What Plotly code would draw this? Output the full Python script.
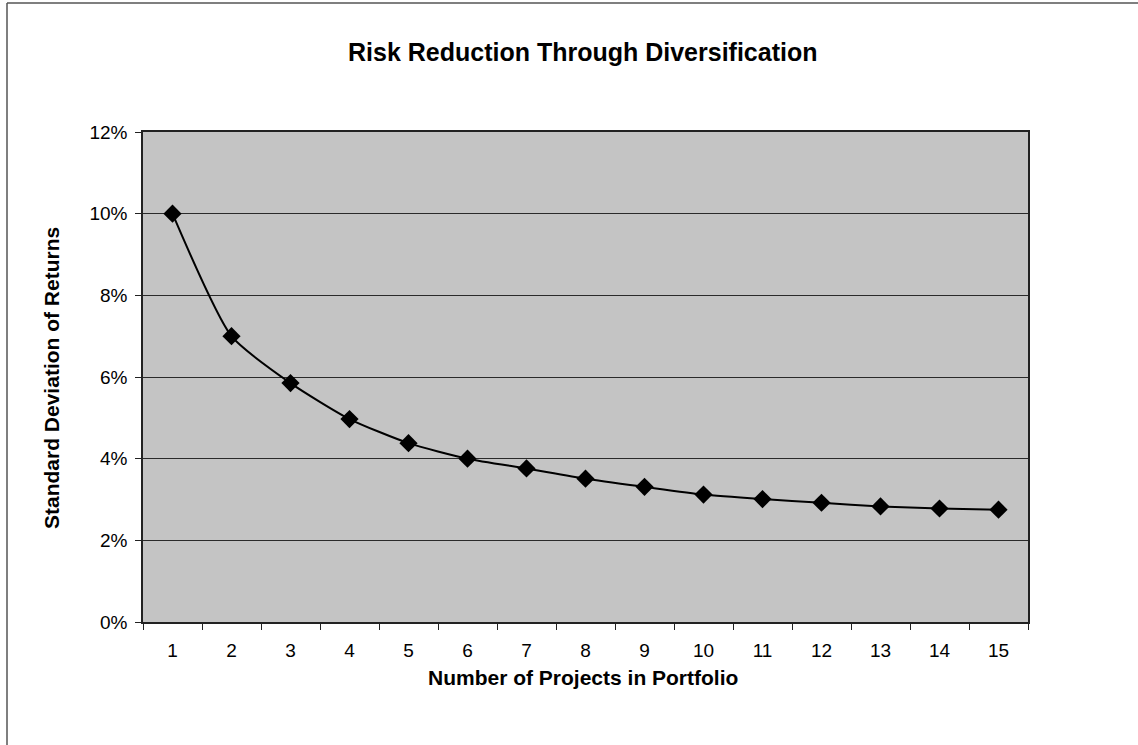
import plotly.graph_objects as go

# Number of projects held in the portfolio
projects = list(range(1, 16))
# Standard deviation of portfolio returns (fraction)
std_dev = [0.100, 0.070, 0.0585, 0.0497, 0.0438, 0.0400, 0.0376, 0.0351,
           0.0331, 0.0312, 0.0301, 0.0292, 0.0283, 0.0278, 0.0275]
y_ticks = [0, 0.02, 0.04, 0.06, 0.08, 0.10, 0.12]

W, H = 1138, 745
L, R, T, B = 143, 1028, 132, 622

FONT = "Liberation Sans, Arial, sans-serif"

fig = go.Figure()
fig.add_trace(go.Scatter(
    x=projects, y=std_dev, mode="lines+markers",
    line=dict(color="black", width=2, shape="spline", smoothing=0.6),
    marker=dict(symbol="diamond", size=14, color="black"),
    showlegend=False, cliponaxis=False,
))

def px_x(p):
    return (p - L) / (R - L)

def px_y(p):
    return (B - p) / (B - T)

fig.update_layout(
    width=W, height=H,
    margin=dict(l=L, r=W - R, t=T, b=H - B),
    paper_bgcolor="white",
    plot_bgcolor="#c4c4c4",
    font=dict(family=FONT, color="black", size=19),
    xaxis=dict(
        range=[0.5, 15.5], tickmode="array", tickvals=projects,
        ticktext=[str(p) for p in projects],
        ticks="", showgrid=False, zeroline=False,
        showline=True, linecolor="#222", linewidth=1.5, mirror=True,
        minor=dict(tick0=0.5, dtick=1, ticks="outside", ticklen=6,
                   tickcolor="#222", showgrid=False),
        tickfont=dict(size=19), ticklabelstandoff=10,
    ),
    yaxis=dict(
        range=[0, 0.12], tickmode="array", tickvals=y_ticks,
        ticktext=[f"{int(round(v * 100))}%" for v in y_ticks],
        ticks="outside", ticklen=6, tickcolor="#222",
        showgrid=True, gridcolor="#2a2a2a", gridwidth=1, zeroline=False,
        showline=True, linecolor="#222", linewidth=1.5, mirror=True,
        tickfont=dict(size=19), ticklabelstandoff=4,
    ),
    annotations=[
        dict(text="<b>Risk Reduction Through Diversification</b>",
             x=px_x(583), y=px_y(52), xref="paper", yref="paper",
             showarrow=False, font=dict(size=25, family=FONT),
             xanchor="center", yanchor="middle"),
        dict(text="<b>Number of Projects in Portfolio</b>",
             x=px_x(583), y=px_y(677), xref="paper", yref="paper",
             showarrow=False, font=dict(size=21, family=FONT),
             xanchor="center", yanchor="middle"),
        dict(text="<b>Standard Deviation of Returns</b>",
             x=px_x(51), y=px_y(378), xref="paper", yref="paper",
             showarrow=False, textangle=-90, font=dict(size=21, family=FONT),
             xanchor="center", yanchor="middle"),
    ],
    shapes=[
        # outer frame of the chart sheet
        dict(type="line", xref="paper", yref="paper",
             x0=px_x(7), x1=px_x(7), y0=px_y(3), y1=px_y(760),
             line=dict(color="#555", width=1.5)),
        dict(type="line", xref="paper", yref="paper",
             x0=px_x(7), x1=px_x(1140), y0=px_y(3), y1=px_y(3),
             line=dict(color="#555", width=1.5)),
    ],
)

fig.write_html("out.html")
